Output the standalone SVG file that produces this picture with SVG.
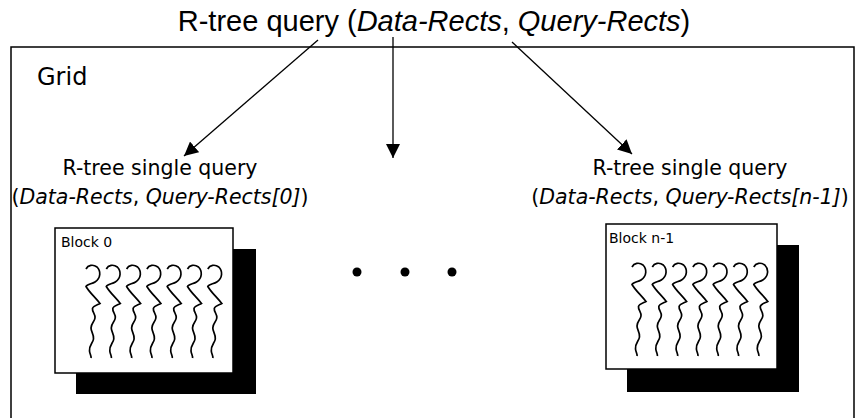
<svg xmlns="http://www.w3.org/2000/svg" xmlns:xlink="http://www.w3.org/1999/xlink" width="855" height="418" viewBox="0 0 855 418">
<style>
.title{font-family:"Liberation Sans",Arial,sans-serif;font-size:29px;fill:#000}
.lbl{font-family:"DejaVu Sans",Verdana,sans-serif;font-size:20.5px;fill:#000}
.grid{font-family:"DejaVu Sans",Verdana,sans-serif;font-size:24px;fill:#000}
.blk{font-family:"DejaVu Sans",Verdana,sans-serif;font-size:14px;fill:#000}
.it{font-style:italic}
.box{fill:#fff;stroke:#000;stroke-width:1.5}
.shadow{fill:#000}
.sq{fill:none;stroke:#000;stroke-width:1.7}
.conn{stroke:#000;stroke-width:1.3;fill:none;marker-end:url(#ah)}
</style>
<defs>
<marker id="ah" viewBox="0 0 10 10" refX="10" refY="5" markerWidth="14" markerHeight="14" markerUnits="userSpaceOnUse" orient="auto">
<path d="M0,0 L10,5 L0,10 z" fill="#000"/>
</marker>
<path id="sq" d="M0,4 C2,0 7,-1 11,2 C15,6 15,13 9,17 C6,19 1,19 0,21.5 C3,27 9,32 14,38.5 C11,40 7,41 6.5,43.5 C6,47 9.5,49 9,53 C8.5,57 5,58 5,63 C5,67 8,69 7.5,74 C7,78 3,80 3.5,86 C3.8,89 5.5,91 5,93"/>
<g id="squiggles" class="sq">
<use xlink:href="#sq" x="0"/>
<use xlink:href="#sq" x="20.3"/>
<use xlink:href="#sq" x="40.6"/>
<use xlink:href="#sq" x="60.9"/>
<use xlink:href="#sq" x="81.2"/>
<use xlink:href="#sq" x="101.5"/>
<use xlink:href="#sq" x="121.8"/>
</g>
</defs>

<g id="title">
<text class="title" x="434" y="31" text-anchor="middle">R-tree query (<tspan class="it">Data-Rects</tspan>, <tspan class="it">Query-Rects</tspan>)</text>
</g>

<g id="grid">
<path d="M11,420 L11,47 L854,47 L854,420" fill="none" stroke="#000" stroke-width="1.5"/>
<text class="grid" x="37" y="85">Grid</text>
</g>

<g id="label-left">
<text class="lbl" x="160" y="175" text-anchor="middle">R-tree single query</text>
<text class="lbl" x="160" y="204" text-anchor="middle">(<tspan class="it">Data-Rects</tspan>, <tspan class="it">Query-Rects[0]</tspan>)</text>
</g>

<g id="label-right">
<text class="lbl" x="690" y="175" text-anchor="middle">R-tree single query</text>
<text class="lbl" x="690" y="204" text-anchor="middle">(<tspan class="it">Data-Rects</tspan>, <tspan class="it">Query-Rects[n-1]</tspan>)</text>
</g>

<g id="block-0">
<rect class="shadow" x="76" y="249" width="180" height="145"/>
<rect class="box" x="55" y="228" width="178" height="145"/>
<text class="blk" x="61" y="247">Block 0</text>
<use xlink:href="#squiggles" x="86" y="265"/>
</g>

<g id="dots">
<circle cx="357" cy="272" r="4.5"/>
<circle cx="405" cy="272" r="4.5"/>
<circle cx="452" cy="272" r="4.5"/>
</g>

<g id="block-n-1">
<rect class="shadow" x="627" y="245" width="172" height="147"/>
<rect class="box" x="606" y="224" width="171" height="145"/>
<text class="blk" x="609" y="243">Block n-1</text>
<use xlink:href="#squiggles" x="632" y="263"/>
</g>

<g id="connectors">
<line class="conn" x1="318" y1="40" x2="184" y2="156"/>
<line class="conn" x1="393" y1="37" x2="393" y2="158"/>
<line class="conn" x1="512" y1="42" x2="632" y2="154"/>
</g>
</svg>
